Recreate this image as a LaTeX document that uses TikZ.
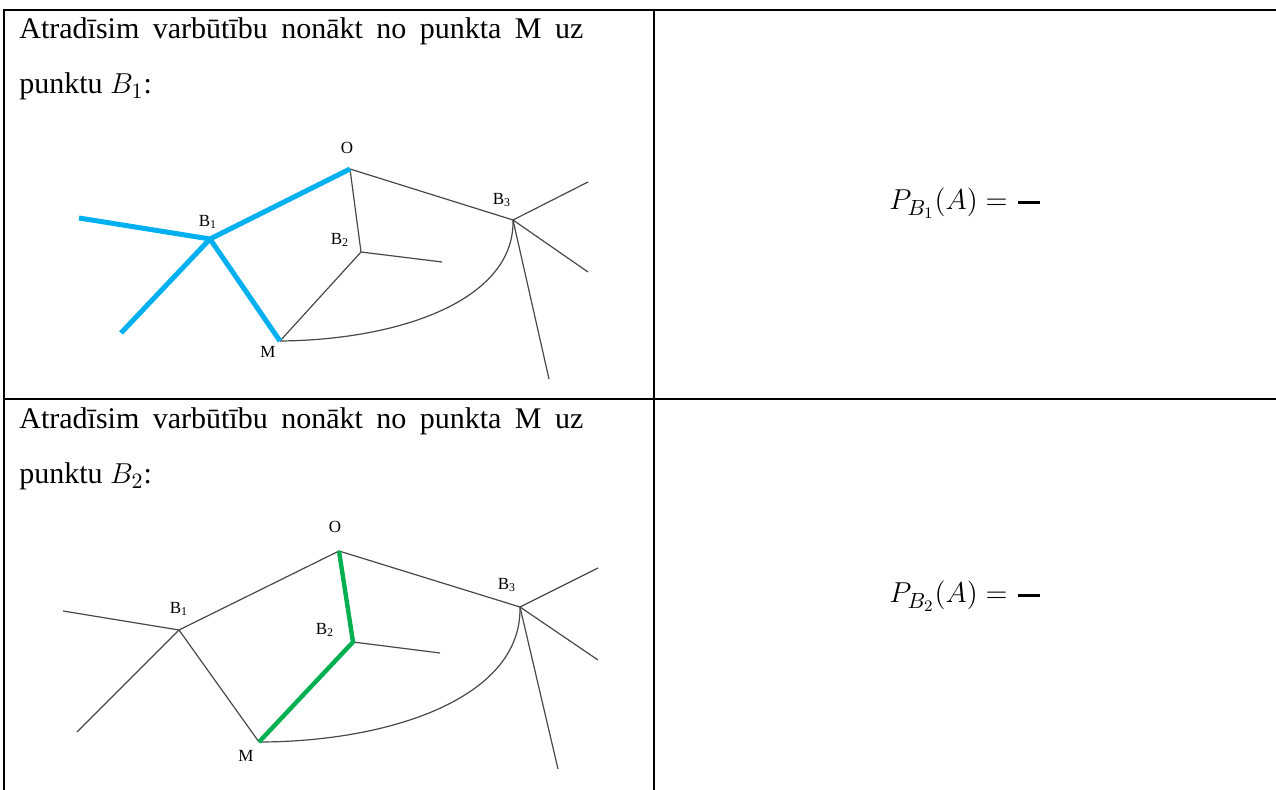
\documentclass[tikz,border=0pt]{standalone}
\usepackage{amsmath}
\usepackage{fontspec}
\setmainfont{Liberation Serif}
\usepackage{tikz}
\usetikzlibrary{positioning}
\definecolor{pathblue}{RGB}{0,176,240}
\definecolor{pathgreen}{RGB}{0,176,80}
\definecolor{edgegray}{RGB}{72,72,72}

\begin{document}
\begin{tikzpicture}[x=0.5pt, y=-0.5pt,
    grid/.style={line width=1pt, black},
    edge/.style={line width=0.6pt, edgegray},
    hiblue/.style={line width=2.5pt, pathblue, line join=round},
    higreen/.style={line width=2.2pt, pathgreen, line join=round},
    lbl/.style={font=\fontsize{8.5}{10}\selectfont, inner sep=0pt},
    txt/.style={font=\fontsize{15}{18}\selectfont, inner sep=0pt, anchor=base west},
    frm/.style={font=\fontsize{15.5}{18}\selectfont, inner sep=0pt, anchor=base west}]
  \useasboundingbox (0,0) rectangle (1276,790);

  % table
  \draw[grid] (3,10) -- (1276,10);
  \draw[grid] (4,10) -- (4,790);
  \draw[grid] (654,10) -- (654,790);
  \draw[grid] (4,399) -- (1276,399);

  % upper row
  \node[txt] (line1a) at (19,39)
    {\makebox[282pt][s]{Atradīsim varbūtību nonākt no punkta M uz}};
  \node[txt] (line2a) at (19,94) {punktu $B_1$:};
  \node[frm] (proba) at (889,210)
    {$P_{B_1}(A)=\genfrac{}{}{1.5pt}{}{\hspace{11pt}}{\hspace{11pt}}$};

  \coordinate (Oa) at (350,169);
  \coordinate (B1a) at (210,239);
  \coordinate (L1a) at (79,218);
  \coordinate (D1a) at (121,333);
  \coordinate (Ma) at (280,341);
  \coordinate (B2a) at (361,252);
  \coordinate (E2a) at (442,262);
  \coordinate (B3a) at (513,220);
  \coordinate (U3a) at (588,182);
  \coordinate (R3a) at (588,272);
  \coordinate (D3a) at (549,379);

  \draw[edge] (Oa) -- (B2a) -- (Ma);
  \draw[edge] (B2a) -- (E2a);
  \draw[edge] (Oa) -- (B3a);
  \draw[edge] (B3a) -- (U3a);
  \draw[edge] (B3a) -- (R3a);
  \draw[edge] (B3a) -- (D3a);
  \draw[edge] (Ma) .. controls (400,340) and (515,300) .. (B3a);
  \draw[hiblue] (L1a) -- (B1a) -- (Oa);
  \draw[hiblue] (D1a) -- (B1a) -- (Ma);

  \node[lbl] (lOa) at (347,148) {O};
  \node[lbl] (lB1a) at (208,222) {B\textsubscript{1}};
  \node[lbl] (lB2a) at (340,240) {B\textsubscript{2}};
  \node[lbl] (lB3a) at (502,200) {B\textsubscript{3}};
  \node[lbl] (lMa) at (268,352) {M};

  % lower row
  \node[txt] (line1b) at (19,429)
    {\makebox[282pt][s]{Atradīsim varbūtību nonākt no punkta M uz}};
  \node[txt] (line2b) at (19,484) {punktu $B_2$:};
  \node[frm] (probb) at (889,603)
    {$P_{B_2}(A)=\genfrac{}{}{1.5pt}{}{\hspace{11pt}}{\hspace{11pt}}$};

  \coordinate (Ob) at (339,551);
  \coordinate (B1b) at (179,630);
  \coordinate (L1b) at (63,611);
  \coordinate (D1b) at (77,732);
  \coordinate (Mb) at (259,742);
  \coordinate (B2b) at (353,642);
  \coordinate (E2b) at (440,653);
  \coordinate (B3b) at (520,607);
  \coordinate (U3b) at (598,568);
  \coordinate (R3b) at (598,660);
  \coordinate (D3b) at (558,769);

  \draw[edge] (L1b) -- (B1b) -- (Ob);
  \draw[edge] (D1b) -- (B1b) -- (Mb);
  \draw[edge] (B2b) -- (E2b);
  \draw[edge] (Ob) -- (B3b);
  \draw[edge] (B3b) -- (U3b);
  \draw[edge] (B3b) -- (R3b);
  \draw[edge] (B3b) -- (D3b);
  \draw[edge] (Mb) .. controls (385,742) and (522,700) .. (B3b);
  \draw[higreen] (Ob) -- (B2b) -- (Mb);

  \node[lbl] (lOb) at (335,527) {O};
  \node[lbl] (lB1b) at (179,609) {B\textsubscript{1}};
  \node[lbl] (lB2b) at (325,630) {B\textsubscript{2}};
  \node[lbl] (lB3b) at (507,585) {B\textsubscript{3}};
  \node[lbl] (lMb) at (246,756) {M};
\end{tikzpicture}
\end{document}
